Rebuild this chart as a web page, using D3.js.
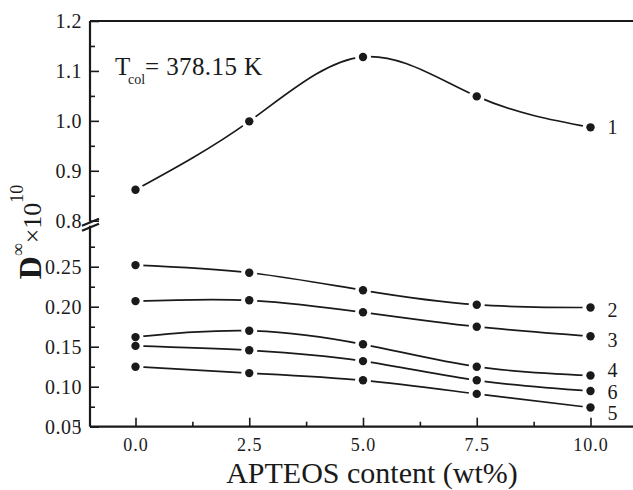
<!DOCTYPE html>
<html><head><meta charset="utf-8">
<script src="https://cdn.jsdelivr.net/npm/d3@7/dist/d3.min.js"></script>
<style>
body{margin:0;background:#fff}
svg{display:block}
</style>
</head><body><svg id="c" width="633" height="490"></svg>
<script>
// ---- data ----
const xValues = [0, 2.5, 5.0, 7.5, 10.0];
const series1 = [0.862, 0.999, 1.128, 1.049, 0.987];
const series2 = [0.252, 0.2425, 0.2205, 0.2025, 0.199];
const series3 = [0.207, 0.208, 0.193, 0.175, 0.163];
const series4 = [0.162, 0.170, 0.153, 0.125, 0.114];
const series6 = [0.151, 0.1455, 0.132, 0.108, 0.0946];
const series5 = [0.125, 0.117, 0.108, 0.091, 0.074];
const upperLabel = "1";
const lowerLabels = ["2", "3", "4", "6", "5"];
const xTicks = [0, 2.5, 5.0, 7.5, 10.0];
const xMinorTicks = [-1.25, 1.25, 3.75, 6.25, 8.75];
const yUpperTicks = [0.8, 0.9, 1.0, 1.1, 1.2];
const yUpperMinor = [0.85, 0.95, 1.05, 1.15];
const yLowerTicks = [0.05, 0.10, 0.15, 0.20, 0.25];
const yLowerMinor = [0.075, 0.125, 0.175, 0.225, 0.275];
const annotationMain = "T", annotationSub = "col", annotationRest = "= 378.15 K";
const xTitle = "APTEOS content (wt%)";

// ---- drawing ----
const FONT = "Liberation Serif";
const svg = d3.select("#c");
const ink = "#1a1a1a";
const x = d3.scaleLinear().domain([-1, 11]).range([90, 636]);
const yUp = d3.scaleLinear().domain([0.8, 1.2]).range([220.7, 21]);
const yLow = d3.scaleLinear().domain([0.05, 0.30]).range([426.7, 226.7]);
const x0 = x.range()[0], yBottom = yLow.range()[0], yTop = yUp.range()[1];

function txt(sel) { return sel.style("font-family", FONT).attr("fill", ink); }

function styleAxis(g) {
  g.attr("font-family", null);
  g.select(".domain").remove();
  g.selectAll(".tick line").attr("stroke", ink).attr("stroke-width", 1.6);
  g.selectAll("text").call(txt);
}

// x axis
svg.append("g").attr("transform", `translate(0,${yBottom})`)
  .call(d3.axisBottom(x).tickValues(xTicks).tickSize(-9).tickPadding(12).tickFormat(d3.format(".1f")))
  .call(styleAxis)
  .call(g => g.selectAll("text").attr("font-size", 18).attr("letter-spacing", 1));
svg.append("g").attr("transform", `translate(0,${yBottom})`)
  .call(d3.axisBottom(x).tickValues(xMinorTicks).tickSize(-5).tickFormat(""))
  .call(styleAxis);

// y axis upper
svg.append("g").attr("transform", `translate(${x0},0)`)
  .call(d3.axisLeft(yUp).tickValues(yUpperTicks).tickSize(-9).tickPadding(8).tickFormat(d3.format(".1f")))
  .call(styleAxis)
  .call(g => g.selectAll("text").attr("font-size", 20).attr("letter-spacing", 0.5));
svg.append("g").attr("transform", `translate(${x0},0)`)
  .call(d3.axisLeft(yUp).tickValues(yUpperMinor).tickSize(-5).tickFormat(""))
  .call(styleAxis);
// y axis lower
svg.append("g").attr("transform", `translate(${x0},0)`)
  .call(d3.axisLeft(yLow).tickValues(yLowerTicks).tickSize(-9).tickPadding(8).tickFormat(d3.format(".2f")))
  .call(styleAxis)
  .call(g => g.selectAll("text").attr("font-size", 20).attr("letter-spacing", 0.5));
svg.append("g").attr("transform", `translate(${x0},0)`)
  .call(d3.axisLeft(yLow).tickValues(yLowerMinor).tickSize(-5).tickFormat(""))
  .call(styleAxis);

// frame lines
const frame = svg.append("g").attr("stroke", ink).attr("stroke-width", 2.2).attr("fill", "none");
frame.append("line").attr("x1", x0).attr("x2", 640).attr("y1", yBottom).attr("y2", yBottom);
frame.append("line").attr("x1", x0).attr("x2", 640).attr("y1", yTop).attr("y2", yTop);
frame.append("line").attr("x1", x0).attr("x2", x0).attr("y1", yTop).attr("y2", yUp(0.8) + 1);
frame.append("line").attr("x1", x0).attr("x2", x0).attr("y1", yUp(0.8) + 5).attr("y2", yBottom);
// break marks
const by = yUp(0.8) + 3;
frame.append("line").attr("x1", x0 - 8).attr("y1", by + 2).attr("x2", x0 + 9).attr("y2", by - 5);
frame.append("line").attr("x1", x0 - 8).attr("y1", by + 7).attr("x2", x0 + 9).attr("y2", by);

// series
const lineGen = (ys) => d3.line().curve(d3.curveNatural).x((d, i) => x(xValues[i])).y(d => ys(d));
const allSeries = [{vals: series1, ys: yUp, label: upperLabel, off: 0}]
  .concat([series2, series3, series4, series6, series5].map((v, i) => ({vals: v, ys: yLow, label: lowerLabels[i], off: [3, 4, -5, 1, 6][i]})));

const plot = svg.append("g");
plot.selectAll("path.s").data(allSeries).join("path")
  .attr("class", "s").attr("fill", "none").attr("stroke", ink).attr("stroke-width", 1.7)
  .attr("d", s => lineGen(s.ys)(s.vals));
// gaps around symbols
allSeries.forEach(s => {
  plot.selectAll(null).data(s.vals).join("circle")
    .attr("cx", (d, i) => x(xValues[i])).attr("cy", d => s.ys(d)).attr("r", 8).attr("fill", "#fff");
});
allSeries.forEach(s => {
  plot.selectAll(null).data(s.vals).join("circle")
    .attr("cx", (d, i) => x(xValues[i])).attr("cy", d => s.ys(d)).attr("r", 4.2).attr("fill", ink);
});
// end labels
svg.selectAll("text.lab").data(allSeries).join("text")
  .attr("class", "lab").attr("font-size", 20).call(txt)
  .attr("x", x(10) + 17)
  .attr("y", s => s.ys(s.vals[s.vals.length - 1]) + s.off).attr("dy", "0.33em")
  .text(s => s.label);

// annotation
svg.append("text").attr("x", 115).attr("y", 75).attr("font-size", 25).call(txt).text(annotationMain);
svg.append("text").attr("x", 128).attr("y", 84).attr("font-size", 14).call(txt).text(annotationSub);
svg.append("text").attr("x", 145).attr("y", 75).attr("font-size", 25).attr("letter-spacing", 0.4).call(txt).text(annotationRest);

// x title
svg.append("text").attr("x", 372).attr("y", 483).attr("text-anchor", "middle")
  .attr("font-size", 30).call(txt).text(xTitle);

// y title
const yt = svg.append("text").attr("transform", "translate(41,232) rotate(-90)")
  .attr("text-anchor", "middle").call(txt);
yt.append("tspan").attr("font-size", 32).attr("font-weight", "bold").text("D");
yt.append("tspan").attr("font-size", 18).attr("dy", -17).text("\u221E");
yt.append("tspan").attr("font-size", 26).attr("dy", 17).text("\u00D710");
yt.append("tspan").attr("font-size", 18).attr("dy", -18).text("10");
</script>
</body></html>
